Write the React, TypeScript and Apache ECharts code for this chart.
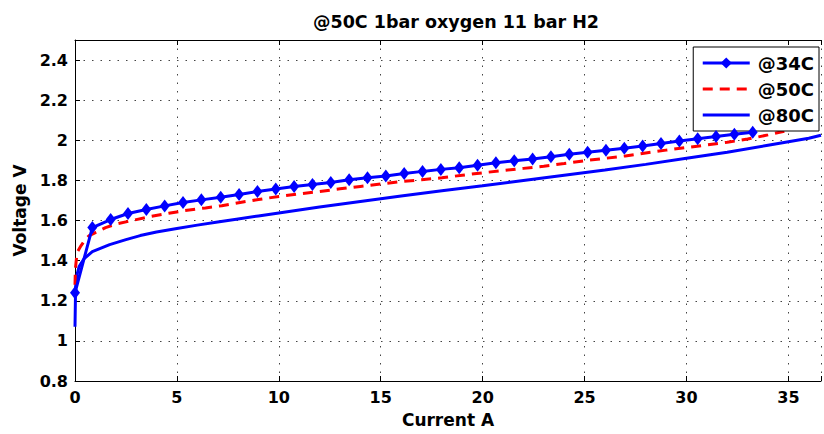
import React, { useEffect, useRef } from "react";
import * as echarts from "echarts";

const titleText = "@50C 1bar oxygen 11 bar H2";
const xName = "Current A";
const yName = "Voltage V";
const seriesNames = ["@34C", "@50C", "@80C"];

// @34C (with diamond markers)
const current34 = [0, 0.85, 1.75, 2.6, 3.5, 4.4, 5.3, 6.2, 7.15, 8.05, 8.95, 9.85, 10.75, 11.65, 12.55, 13.45, 14.35, 15.25, 16.15, 17.05, 17.95, 18.85, 19.75, 20.65, 21.55, 22.45, 23.35, 24.25, 25.15, 26.05, 26.95, 27.85, 28.75, 29.65, 30.55, 31.45, 32.35, 33.25];
const voltage34 = [1.24, 1.565, 1.605, 1.635, 1.655, 1.673, 1.69, 1.703, 1.716, 1.73, 1.745, 1.757, 1.77, 1.78, 1.79, 1.803, 1.813, 1.822, 1.834, 1.845, 1.855, 1.863, 1.876, 1.888, 1.898, 1.907, 1.918, 1.93, 1.94, 1.95, 1.96, 1.972, 1.984, 1.997, 2.008, 2.019, 2.03, 2.04];

// @50C (red dashed)
const current50 = [0, 0.02, 0.1, 0.3, 0.5, 0.7, 1, 1.5, 2, 2.8, 3.6, 4.6, 5.4, 6.4, 7.2, 8.1, 9, 10, 11, 12, 13, 14, 15, 16, 17, 18, 19, 20, 21, 22, 23, 24, 25, 26, 27, 28, 29, 30, 31, 32, 33, 34, 34.8];
const voltage50 = [1.28, 1.36, 1.44, 1.475, 1.505, 1.525, 1.54, 1.565, 1.582, 1.6, 1.618, 1.636, 1.65, 1.663, 1.674, 1.69, 1.705, 1.72, 1.733, 1.745, 1.758, 1.77, 1.782, 1.794, 1.803, 1.813, 1.826, 1.838, 1.849, 1.86, 1.871, 1.884, 1.898, 1.91, 1.922, 1.937, 1.951, 1.964, 1.977, 1.99, 2.006, 2.027, 2.045];

// @80C (solid blue)
const current80 = [0, 0.03, 0.1, 0.2, 0.45, 0.85, 1.7, 2.5, 3.2, 4, 5, 6, 7, 8, 9, 10, 12, 14, 16, 18, 20, 22, 24, 26, 28, 30, 32, 34, 36, 36.6];
const voltage80 = [1.07, 1.27, 1.33, 1.37, 1.41, 1.445, 1.48, 1.505, 1.525, 1.543, 1.56, 1.577, 1.593, 1.608, 1.623, 1.638, 1.667, 1.695, 1.722, 1.748, 1.773, 1.8, 1.826, 1.852, 1.88, 1.91, 1.94, 1.975, 2.01, 2.025];

const FONT = "'DejaVu Sans', Arial, sans-serif";

function pairs(xs: number[], ys: number[]) {
  return xs.map((x, i) => [x, ys[i]]);
}

export default function App() {
  const ref = useRef<HTMLDivElement>(null);
  useEffect(() => {
    if (!ref.current) return;
    const chart = echarts.init(ref.current, undefined, { renderer: "svg" });
    const gridLine = { show: true, lineStyle: { color: "#444", width: 1, type: [1.5, 7] as any } };
    chart.setOption({
      animation: false,
      backgroundColor: "#fff",
      title: {
        text: titleText,
        left: 308,
        top: 8,
        textStyle: { fontFamily: FONT, fontWeight: "bold", fontSize: 17.5, color: "#000" },
      },
      legend: {
        orient: "vertical",
        right: 5,
        top: 47,
        data: [
          { name: seriesNames[0] },
          { name: seriesNames[1], itemStyle: { opacity: 0 } },
          { name: seriesNames[2], itemStyle: { opacity: 0 } },
        ],
        backgroundColor: "#fff",
        borderColor: "#000",
        borderWidth: 1,
        borderRadius: 0,
        padding: [6, 5, 6, 8],
        itemWidth: 47,
        itemHeight: 14,
        itemGap: 6,
        lineStyle: { width: 3 },
        textStyle: { fontFamily: FONT, fontWeight: "bold", fontSize: 18, color: "#000", lineHeight: 20, padding: [0, 0, 0, 3] },
      },
      grid: { left: 75, top: 40, right: 0, bottom: 53, containLabel: false },
      xAxis: [
        {
          type: "value",
          min: 0,
          max: 36.6,
          interval: 5,
          name: xName,
          nameLocation: "middle",
          nameGap: 30,
          nameTextStyle: { fontFamily: FONT, fontWeight: "bold", fontSize: 17, color: "#000" },
          axisLine: { show: true, onZero: false, lineStyle: { color: "#000", width: 1 } },
          axisTick: { show: true, inside: true, length: 5, lineStyle: { color: "#000" } },
          axisLabel: {
            margin: 8,
            fontFamily: FONT,
            fontWeight: "bold",
            fontSize: 16,
            color: "#000",
            formatter: (v: number) => (Math.abs(v / 5 - Math.round(v / 5)) < 1e-6 ? String(Math.round(v)) : ""),
          },
          splitLine: gridLine,
        },
        {
          type: "value",
          position: "top",
          min: 0,
          max: 36.6,
          interval: 5,
          axisLine: { show: true, onZero: false, lineStyle: { color: "#000", width: 1 } },
          axisTick: { show: true, inside: true, length: 5, lineStyle: { color: "#000" } },
          axisLabel: { show: false },
          splitLine: { show: false },
        },
      ],
      yAxis: {
        type: "value",
        min: 0.8,
        max: 2.5,
        interval: 0.2,
        name: yName,
        nameLocation: "middle",
        nameGap: 41,
        nameTextStyle: { fontFamily: FONT, fontWeight: "bold", fontSize: 17, color: "#000" },
        axisLine: { show: true, onZero: false, lineStyle: { color: "#000", width: 1 } },
        axisTick: { show: true, inside: true, length: 5, lineStyle: { color: "#000" } },
        axisLabel: {
          margin: 7,
          fontFamily: FONT,
          fontWeight: "bold",
          fontSize: 16,
          color: "#000",
          formatter: (v: number) => (v > 2.45 ? "" : String(Number(v.toFixed(1)))),
        },
        splitLine: gridLine,
      },
      series: [
        {
          name: seriesNames[0],
          type: "line",
          data: pairs(current34, voltage34),
          color: "#0000ff",
          lineStyle: { color: "#0000ff", width: 3 },
          symbol: "diamond",
          symbolSize: [10, 13],
          showSymbol: true,
          itemStyle: { color: "#0000ff" },
          z: 4,
        },
        {
          name: seriesNames[1],
          type: "line",
          data: pairs(current50, voltage50),
          color: "#ff0000",
          lineStyle: { color: "#ff0000", width: 3, type: [10, 7] },
          symbol: "none",
          itemStyle: { color: "#ff0000" },
          z: 3,
        },
        {
          name: seriesNames[2],
          type: "line",
          data: pairs(current80, voltage80),
          color: "#0000ff",
          lineStyle: { color: "#0000ff", width: 3 },
          symbol: "none",
          itemStyle: { color: "#0000ff" },
          z: 2,
        },
      ],
    });
    return () => chart.dispose();
  }, []);
  return (
    <div
      ref={ref}
      style={{ position: "fixed", left: 0, top: 0, width: 824, height: 434, background: "#fff" }}
    />
  );
}
